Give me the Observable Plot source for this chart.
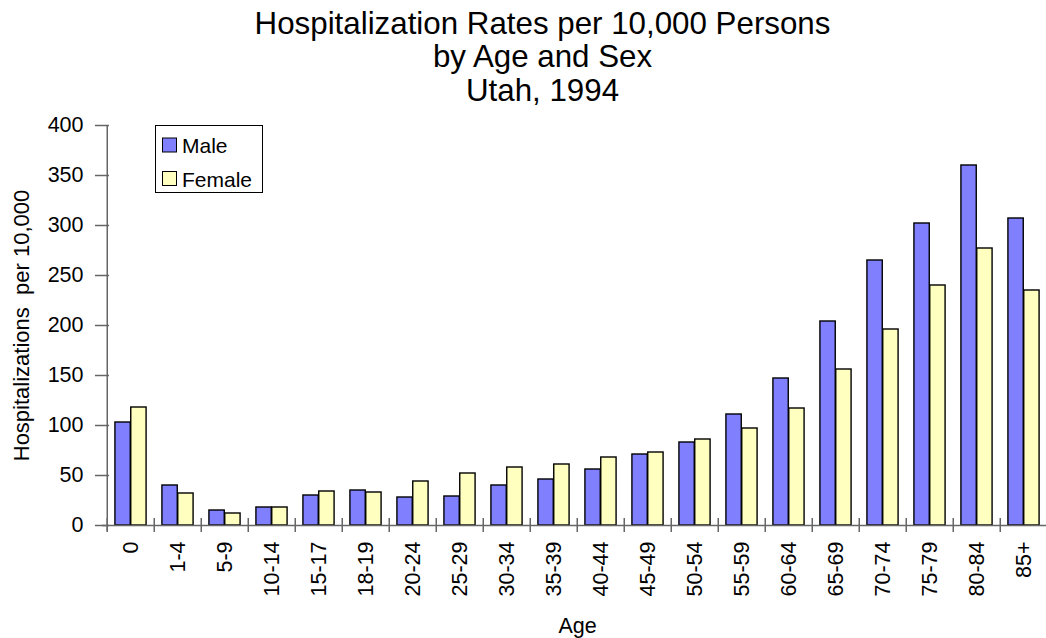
<!DOCTYPE html>
<html>
<head>
<meta charset="utf-8">
<script src="https://cdn.jsdelivr.net/npm/d3@7"></script>
<script src="https://cdn.jsdelivr.net/npm/@observablehq/plot@0.6"></script>
<style>
  html, body { margin: 0; padding: 0; background: #fff; overflow: hidden; }
  #chart { position: relative; width: 1046px; height: 638px; }
  svg { font-family: "Liberation Sans", Arial, sans-serif; }
</style>
</head>
<body>
<div id="chart"></div>
<script>
// ---- Data ----
const ages = ["0","1-4","5-9","10-14","15-17","18-19","20-24","25-29","30-34","35-39","40-44","45-49","50-54","55-59","60-64","65-69","70-74","75-79","80-84","85+"];
const male   = [103, 40, 15, 18, 30, 35, 28, 29, 40, 46, 56, 71, 83, 111, 147, 204, 265, 302, 360, 307];
const female = [118, 32, 12, 18, 34, 33, 44, 52, 58, 61, 68, 73, 86,  97, 117, 156, 196, 240, 277, 235];
const yTicks = [0, 50, 100, 150, 200, 250, 300, 350, 400];
const series = ["Male", "Female"];
const colors = ["#8080FF", "#FFFFC0"];
const titleText = "Hospitalization Rates per 10,000 Persons\nby Age and Sex\nUtah, 1994";
const yLabel = "Hospitalizations\u00a0 per 10,000";
const xLabel = "Age";

// ---- Layout ----
const W = 1046, H = 638;
const mL = 102, mR = -6, mT = 125, mB = 113;
const plotW = W - mL - mR;
const step = plotW / ages.length;
const axisColor = "#666";
const font = 21.5;

const rows = ages.map((a, i) => ({age: a, male: male[i], female: female[i]}));

const chart = Plot.plot({
  width: W,
  height: H,
  marginLeft: mL,
  marginRight: mR,
  marginTop: mT,
  marginBottom: mB,
  style: {fontFamily: '"Liberation Sans", Arial, sans-serif', background: "white", overflow: "visible"},
  x: {domain: ages, padding: 0},
  y: {domain: [0, 400]},
  marks: [
    Plot.barY(rows, {x: "age", y: "male", fill: colors[0], stroke: "#000", strokeWidth: 1.4,
      insetLeft: step / 6, insetRight: step / 2}),
    Plot.barY(rows, {x: "age", y: "female", fill: colors[1], stroke: "#000", strokeWidth: 1.4,
      insetLeft: step / 2, insetRight: step / 6}),
    // x axis line
    Plot.ruleY([0], {stroke: axisColor, strokeWidth: 1.5}),
    // y axis line (extends slightly below)
    Plot.ruleX([ages[0]], {x: d => d, dx: -step / 2, y1: 400, y2: 0, insetBottom: -6, stroke: axisColor, strokeWidth: 1.5}),
    // y cross ticks
    Plot.ruleY(yTicks, {y: d => d, insetLeft: -7, insetRight: plotW - 7, stroke: axisColor, strokeWidth: 1.5}),
    // x boundary cross ticks
    Plot.ruleX(ages, {x: d => d, dx: -step / 2, y1: 0, y2: 0, insetTop: -7, insetBottom: -7, stroke: axisColor, strokeWidth: 1.5}),
    Plot.ruleX([ages[ages.length - 1]], {x: d => d, dx: step / 2, y1: 0, y2: 0, insetTop: -7, insetBottom: -7, stroke: axisColor, strokeWidth: 1.5}),
    // y tick labels
    Plot.axisY({ticks: yTicks, tickSize: 0, tickPadding: 19, fontSize: font, fill: "#000", label: null}),
    // x tick labels
    Plot.axisX({tickRotate: -90, tickSize: 0, tickPadding: 16, fontSize: font, fill: "#000", label: null}),
    // title
    Plot.text([titleText], {text: d => d, frameAnchor: "top", dx: -35, dy: -25, lineAnchor: "bottom",
      lineHeight: 1.064, fontSize: 31.3, fill: "#000"}),
    // y label
    Plot.text([yLabel], {text: d => d, frameAnchor: "left", textAnchor: "middle", rotate: -90, dx: -74, lineAnchor: "bottom",
      fontSize: 22, fill: "#000"}),
    // x label
    Plot.text([xLabel], {text: d => d, frameAnchor: "bottom", dy: 107, lineAnchor: "bottom",
      fontSize: font, fill: "#000"})
  ]
});

document.getElementById("chart").appendChild(chart);

// ---- Legend (inside plot area, top-left) ----
const svg = d3.select(chart);
const lg = svg.append("g")
  .attr("font-family", '"Liberation Sans", Arial, sans-serif')
  .attr("font-size", 21)
  .attr("text-anchor", "start");
lg.append("rect").attr("x", 155.5).attr("y", 125.5).attr("width", 107).attr("height", 67)
  .attr("fill", "white").attr("stroke", "#000").attr("stroke-width", 1);
series.forEach((s, i) => {
  const y0 = 138 + i * 33.5;
  lg.append("rect").attr("x", 162.5).attr("y", y0).attr("width", 14).attr("height", 14)
    .attr("fill", colors[i]).attr("stroke", "#000").attr("stroke-width", 1);
  lg.append("text").attr("x", 182).attr("y", y0 + 15.3).attr("fill", "#000").attr("text-anchor", "start").text(s);
});
</script>
</body>
</html>
